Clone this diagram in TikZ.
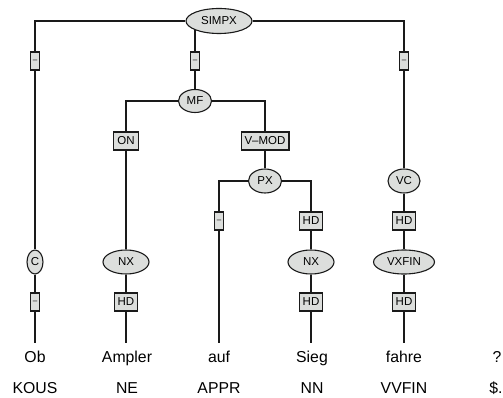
\documentclass[tikz,border=0pt]{standalone}
\usepackage{fontspec}
\setmainfont{Liberation Sans}
\usepackage{xcolor}
\usepackage{tikz}
\usetikzlibrary{shapes.geometric,backgrounds}
\definecolor{tLine}{HTML}{1A1A1A}
\definecolor{tFill}{HTML}{DCDEDC}
\newcommand{\catfont}{\fontsize{11.5}{12}\selectfont}
\newcommand{\wordfont}{\fontsize{15.8}{17}\selectfont}
\tikzset{
 cat/.style={ellipse, draw=tLine, fill=tFill, line width=1.1pt, inner sep=0pt, minimum height=24pt, font=\catfont},
 fn/.style={rectangle, draw=tLine, fill=tFill, line width=1.1pt, inner xsep=3.5pt, inner ysep=0pt, minimum height=18pt, font=\catfont},
 fnnone/.style={fn, inner xsep=1pt, minimum width=9pt, font=\fontsize{8}{9}\selectfont},
 word/.style={font=\wordfont, inner xsep=0pt, inner ysep=8pt, text height=11pt, text depth=3pt, anchor=base},
 tagtext/.style={font=\wordfont, inner sep=0pt, anchor=base},
 edge/.style={draw=tLine, line width=1.1pt}
}

\begin{document}
\begin{tikzpicture}[x=1pt, y=-1pt]
\useasboundingbox (0,0) rectangle (503,398);
% categories
\node[cat, minimum width=66pt, minimum height=25pt] (simpx) at (219,21) {SIMPX};
\node[cat, minimum width=33pt, minimum height=23pt] (mf) at (195,101) {MF};
\node[cat, minimum width=33pt] (px) at (265,181) {PX};
\node[cat, minimum width=32pt] (vc) at (404,181) {VC};
\node[cat, minimum width=16pt] (c) at (35,262) {C};
\node[cat, minimum width=46pt] (nx1) at (126,262) {NX};
\node[cat, minimum width=46pt] (nx2) at (311,262) {NX};
\node[cat, minimum width=61pt] (vxfin) at (404,262) {VXFIN};
% edge labels
\node[fnnone] (e1) at (35,61) {--};
\node[fnnone] (e2) at (195,61) {--};
\node[fnnone] (e3) at (404,61) {--};
\node[fn] (on) at (126,141) {ON};
\node[fn] (vmod) at (265,141) {V--MOD};
\node[fnnone] (e4) at (219,221) {--};
\node[fn] (hd1) at (311,221) {HD};
\node[fn] (hd2) at (404,221) {HD};
\node[fnnone] (e5) at (35,302) {--};
\node[fn] (hd3) at (126,302) {HD};
\node[fn] (hd4) at (311,302) {HD};
\node[fn] (hd5) at (404,302) {HD};
% words and tags
\node[word] (w1) at (35,362) {Ob};
\node[word] (w2) at (127,362) {Ampler};
\node[word] (w3) at (219,362) {auf};
\node[word] (w4) at (312,362) {Sieg};
\node[word] (w5) at (404,362) {fahre};
\node[word] (w6) at (497,362) {?};
\node[tagtext] (t1) at (35,393) {KOUS};
\node[tagtext] (t2) at (127,393) {NE};
\node[tagtext] (t3) at (219,393) {APPR};
\node[tagtext] (t4) at (312,393) {NN};
\node[tagtext] (t5) at (404,393) {VVFIN};
\node[tagtext] (t6) at (496,393) {\$.};
% tree lines
\begin{scope}[on background layer]
\draw[edge] (simpx) -| (c);
\draw[edge] (simpx) -| (vc);
\draw[edge] (mf) -- (mf |- simpx.center);
\draw[edge] (mf) -| (nx1);
\draw[edge] (mf) -| (px);
\draw[edge] (px) -| (w3.north);
\draw[edge] (px) -| (nx2);
\draw[edge] (vc) -- (vxfin);
\draw[edge] (c) -- (w1.north);
\draw[edge] (nx1) -- (nx1 |- w2.north);
\draw[edge] (nx2) -- (nx2 |- w4.north);
\draw[edge] (vxfin) -- (w5.north);
\end{scope}
\end{tikzpicture}
\end{document}
